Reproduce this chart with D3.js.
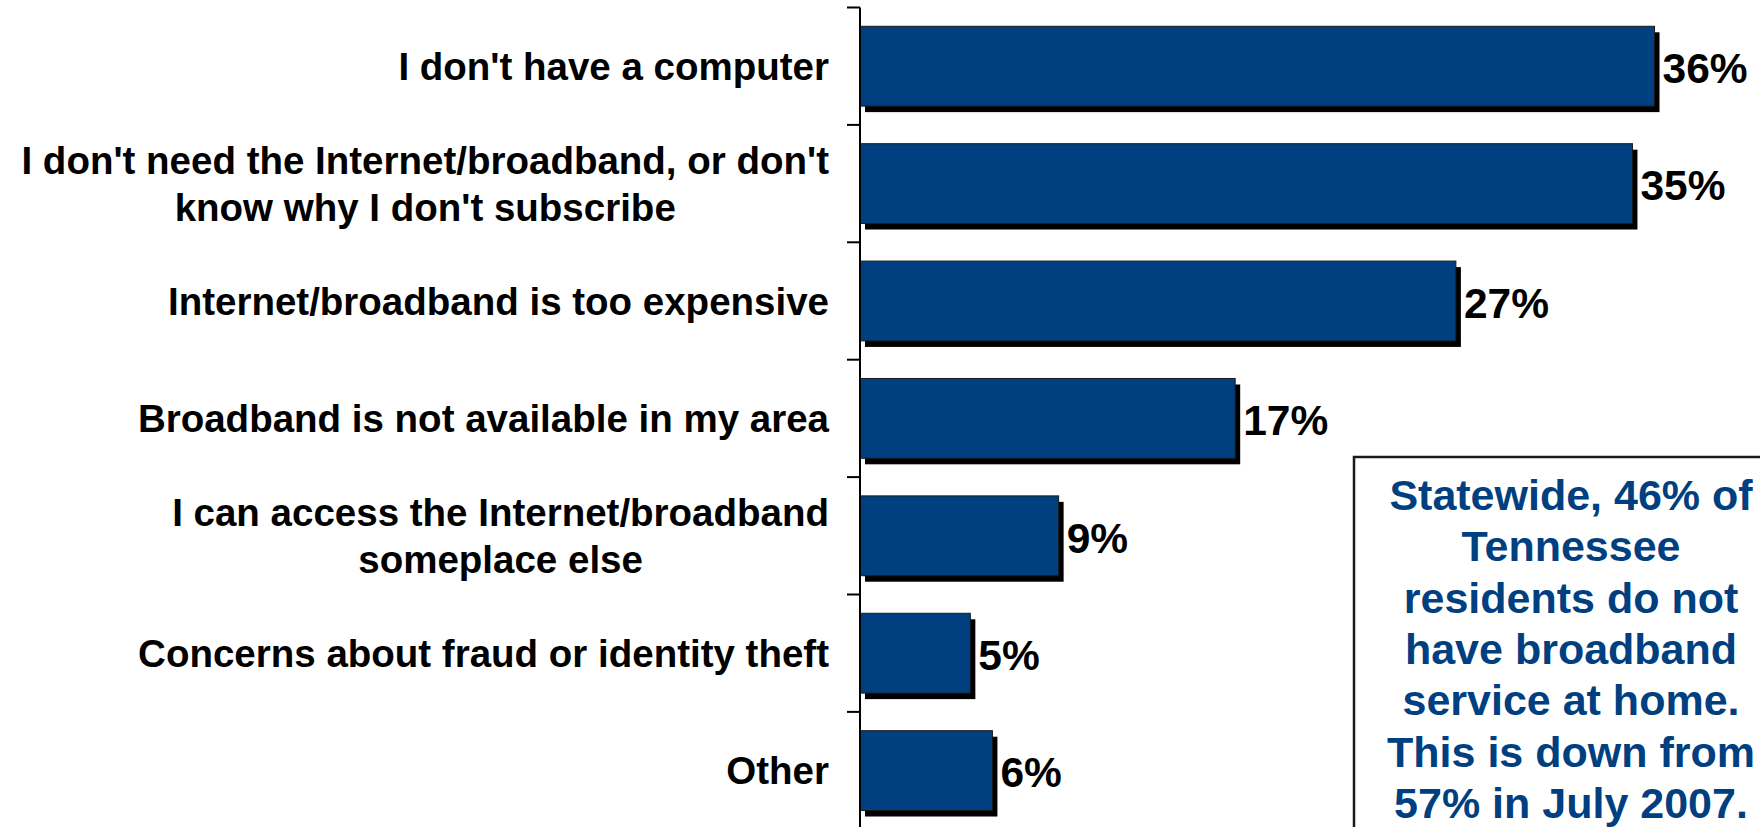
<!DOCTYPE html>
<html>
<head>
<meta charset="utf-8">
<script src="https://cdn.jsdelivr.net/npm/d3@7/dist/d3.min.js"></script>
<style>
  html, body { margin: 0; padding: 0; background: #fff; }
  svg { display: block; }
  text { font-family: Arial, "Liberation Sans", Helvetica, sans-serif; font-weight: bold; }
</style>
</head>
<body>
<svg id="chart" width="1760" height="827"></svg>
<script>
// ---- data ----
const categories = [
  "I don't have a computer",
  "I don't need the Internet/broadband, or don't know why I don't subscribe",
  "Internet/broadband is too expensive",
  "Broadband is not available in my area",
  "I can access the Internet/broadband someplace else",
  "Concerns about fraud or identity theft",
  "Other"
];
const categoryLines = [
  ["I don't have a computer"],
  ["I don't need the Internet/broadband, or don't", "know why I don't subscribe"],
  ["Internet/broadband is too expensive"],
  ["Broadband is not available in my area"],
  ["I can access the Internet/broadband", "someplace else"],
  ["Concerns about fraud or identity theft"],
  ["Other"]
];
const values = [36, 35, 27, 17, 9, 5, 6];
const valueLabels = ["36%", "35%", "27%", "17%", "9%", "5%", "6%"];
const noteLines = [
  "Statewide, 46% of",
  "Tennessee",
  "residents do not",
  "have broadband",
  "service at home.",
  "This is down from",
  "57% in July 2007."
];

// ---- layout ----
const svg = d3.select("#chart");
const axisX = 860;
const plotTop = 7.5;
const step = 117.4;
const pad = 0.32;

const x = d3.scaleLinear().domain([0, 40]).range([axisX, axisX + 882.8]);
const y = d3.scaleBand()
  .domain(categories)
  .range([plotTop, plotTop + step * categories.length])
  .paddingInner(pad)
  .paddingOuter(pad / 2);

const data = categories.map((c, i) => ({ cat: c, lines: categoryLines[i], v: values[i], label: valueLabels[i] }));

const barColor = "#004080";

// shadows
svg.append("g").selectAll("rect")
  .data(data).join("rect")
  .attr("x", x(0) + 5)
  .attr("y", d => y(d.cat) + 6)
  .attr("width", d => x(d.v) - x(0))
  .attr("height", y.bandwidth())
  .attr("fill", "#000");

// bars
svg.append("g").selectAll("rect")
  .data(data).join("rect")
  .attr("x", x(0))
  .attr("y", d => y(d.cat))
  .attr("width", d => x(d.v) - x(0))
  .attr("height", y.bandwidth())
  .attr("fill", barColor)
  .attr("stroke", "#1a1a1a")
  .attr("stroke-width", 1);

// axis line and ticks (ticks at band boundaries)
const boundaries = categories.map(c => y(c) - y.step() * pad / 2);
svg.append("line")
  .attr("x1", axisX).attr("x2", axisX)
  .attr("y1", boundaries[0]).attr("y2", 827)
  .attr("stroke", "#000").attr("stroke-width", 2);
svg.append("g").selectAll("line")
  .data(boundaries).join("line")
  .attr("x1", axisX - 13).attr("x2", axisX)
  .attr("y1", d => d).attr("y2", d => d)
  .attr("stroke", "#000").attr("stroke-width", 2);

// category labels
const fs = 38.5;
const lh = 47;
const lab = svg.append("g").selectAll("text")
  .data(data).join("text")
  .attr("text-anchor", "middle")
  .attr("font-size", fs)
  .attr("fill", "#000")
  .each(function(d) {
    const t = d3.select(this);
    const cy = y(d.cat) + y.bandwidth() / 2;
    const n = d.lines.length;
    d.lines.forEach((ln, k) => {
      t.append("tspan")
        .attr("y", cy + (k - (n - 1) / 2) * lh + fs * 0.36)
        .text(ln);
    });
  });
// right-aligned block, lines centered within it
lab.each(function() {
  const t = d3.select(this);
  const tspans = t.selectAll("tspan").nodes();
  let maxW = 0;
  tspans.forEach(s => { maxW = Math.max(maxW, s.getComputedTextLength()); });
  const cx = 829 - maxW / 2;
  t.selectAll("tspan").attr("x", cx);
});

// value labels
svg.append("g").selectAll("text")
  .data(data).join("text")
  .attr("x", d => x(d.v) + 8)
  .attr("y", d => y(d.cat) + y.bandwidth() / 2 + 42 * 0.4)
  .attr("font-size", 42.5)
  .attr("fill", "#000")
  .text(d => d.label);

// note box
svg.append("rect")
  .attr("x", 1354).attr("y", 457)
  .attr("width", 440).attr("height", 420)
  .attr("fill", "#fff")
  .attr("stroke", "#1a1a1a")
  .attr("stroke-width", 2.5);
svg.append("g").selectAll("text")
  .data(noteLines).join("text")
  .attr("x", 1571)
  .attr("y", (d, i) => 510 + i * 51.3)
  .attr("text-anchor", "middle")
  .attr("font-size", 43)
  .attr("fill", barColor)
  .text(d => d);
</script>
</body>
</html>
